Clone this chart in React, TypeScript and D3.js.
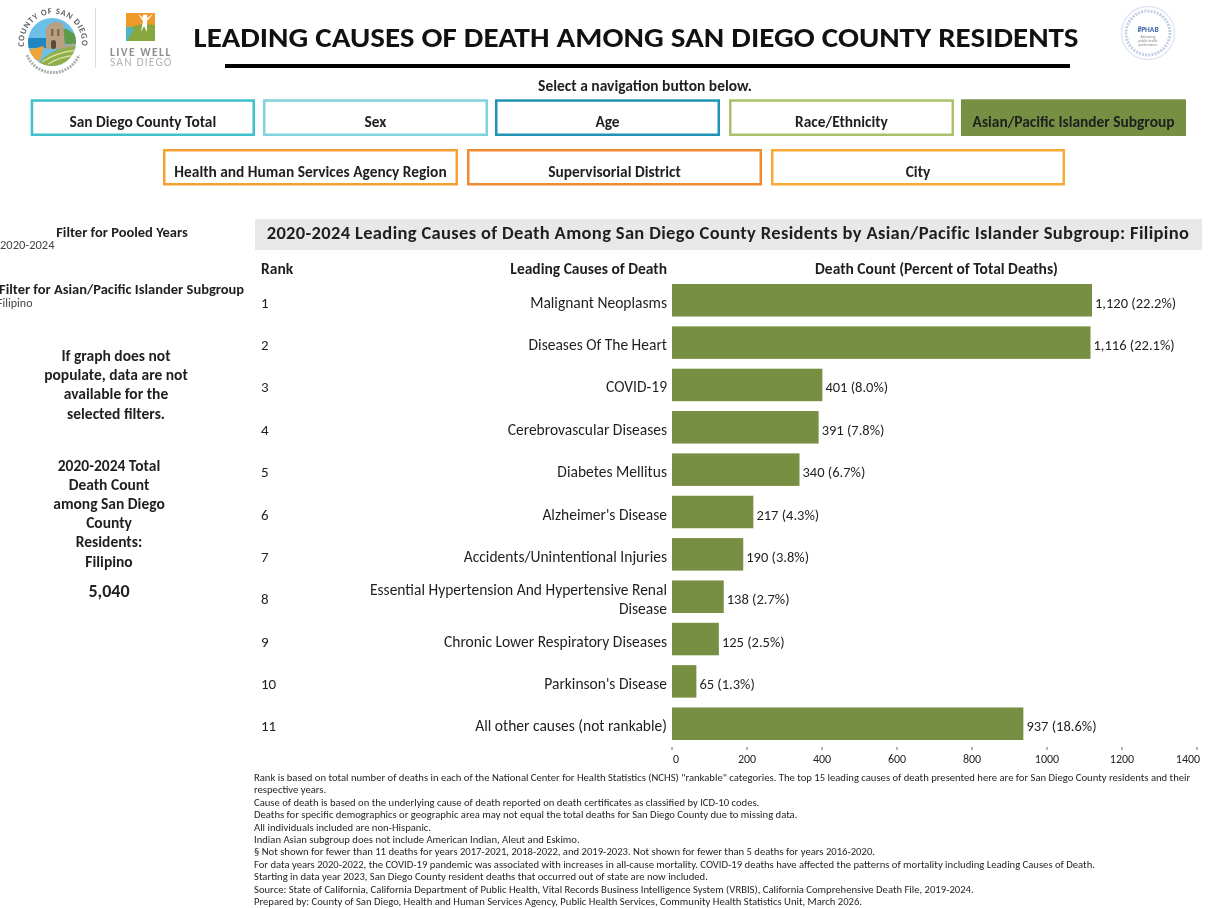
import React from "react";
import * as d3 from "d3";

const FONT = "Carlito, Lato, 'Open Sans', sans-serif";
const ranks = ["1","2","3","4","5","6","7","8","9","10","11"];
const causes = ["Malignant Neoplasms","Diseases Of The Heart","COVID-19","Cerebrovascular Diseases","Diabetes Mellitus","Alzheimer's Disease","Accidents/Unintentional Injuries","Essential Hypertension And Hypertensive Renal Disease","Chronic Lower Respiratory Diseases","Parkinson's Disease","All other causes (not rankable)"];
const counts = [1120,1116,401,391,340,217,190,138,125,65,937];
const percents = ["22.2","22.1","8.0","7.8","6.7","4.3","3.8","2.7","2.5","1.3","18.6"];
const ticks = [0,200,400,600,800,1000,1200,1400];
const tickLabelShift = [4,0,0,0,0,0,0,-9];
const navRow1 = ["San Diego County Total","Sex","Age","Race/Ethnicity","Asian/Pacific Islander Subgroup"];
const navRow1X = [30.7,263,495,729,961];
const navRow1W = [224.3,225,225,225,225];
const navRow1C = ["#3fc1cb","#7fd3de","#1f93b5","#a9c26a","#778f43"];
const navRow2 = ["Health and Human Services Agency Region","Supervisorial District","City"];
const navRow2X = [163,467,771];
const navRow2W = [295,295,294];
const navRow2C = ["#f5a035","#f08a33","#f8a937"];
const notes = [
  "Rank is based on total number of deaths in each of the National Center for Health Statistics (NCHS) \"rankable\" categories. The top 15 leading causes of death presented here are for San Diego County residents and their",
  "respective years.",
  "Cause of death is based on the underlying cause of death reported on death certificates as classified by ICD-10 codes.",
  "Deaths for specific demographics or geographic area may not equal the total deaths for San Diego County due to missing data.",
  "All individuals included are non-Hispanic.",
  "Indian Asian subgroup does not include American Indian, Aleut and Eskimo.",
  "§ Not shown for fewer than 11 deaths for years 2017-2021, 2018-2022, and 2019-2023. Not shown for fewer than 5 deaths for years 2016-2020.",
  "For data years 2020-2022, the COVID-19 pandemic was associated with increases in all-cause mortality. COVID-19 deaths have affected the patterns of mortality including Leading Causes of Death.",
  "Starting in data year 2023, San Diego County resident deaths that occurred out of state are now included.",
  "Source: State of California, California Department of Public Health, Vital Records Business Intelligence System (VRBIS), California Comprehensive Death File, 2019-2024.",
  "Prepared by: County of San Diego, Health and Human Services Agency, Public Health Services, Community Health Statistics Unit, March 2026.",
];
const sideNote = ["If graph does not","populate, data are not","available for the","selected filters."];
const sideTotal = ["2020-2024 Total","Death Count","among San Diego","County","Residents:","Filipino"];

const GREEN = "#778f43";
const TXT = "#1f1f1f";

export default function App() {
  const x = d3.scaleLinear().domain([0, 1400]).range([672, 1197]);
  const y = d3.scaleBand<string>().domain(ranks).range([284, 740]).paddingInner(0.232).paddingOuter(0);
  return (
    <svg width={1213} height={908} style={{ position: "absolute", left: 0, top: 0, filter: "blur(0.5px)" }} fontFamily={FONT}>
      <defs>
        <path id="sealArc" d="M 25.5 52 A 29 29 0 1 1 80.5 52" />
        <clipPath id="sealClip"><circle cx={52} cy={42} r={24} /></clipPath>
      </defs>
      <rect width={1213} height={908} fill="#fff" />
      {/* County seal */}
      <text fontSize={8.5} fontWeight={700} fill="#5f6468" letterSpacing={0.8}>
        <textPath href="#sealArc" startOffset="50%" textAnchor="middle">COUNTY OF SAN DIEGO</textPath>
      </text>
      <path d="M 27 55 A 28 28 0 0 0 79 55" fill="none" stroke="#aab0b0" strokeWidth={3} strokeDasharray="2 1" />
      <g clipPath="url(#sealClip)">
        <rect x={28} y={18} width={48} height={48} fill="#6cc0e8" />
        <rect x={28} y={38} width={24} height={10} fill="#1f86c0" />
        <path d="M28 50 L44 46 L40 60 L28 60 Z" fill="#f0a33a" />
        <path d="M36 66 Q52 46 78 46 L78 66 Z" fill="#8fae4a" />
        <path d="M42 62 Q56 52 78 50 M48 64 Q60 56 78 55" stroke="#d5e0a0" strokeWidth={1.5} fill="none" />
        <path d="M62 28 Q72 30 78 38 L78 44 L62 44 Z" fill="#5f9a4a" />
        <path d="M46 49 L46 28 Q54 18 63 24 L65 46 L74 43 L74 46 L58 49 Z" fill="#b9a083" />
        <rect x={51} y={40} width={5} height={9} rx={2.5} fill="#5a4a3c" />
        <rect x={51} y={29} width={2.5} height={7} fill="#7c6a58" />
        <rect x={57} y={29} width={2.5} height={7} fill="#7c6a58" />
      </g>
      {/* divider */}
      <line x1={95.5} y1={8} x2={95.5} y2={68} stroke="#ddd" />
      {/* Live Well logo */}
      <rect x={126} y={13} width={29} height={28} fill="#f09a2c" />
      <path d="M126 41 L126 30 Q137 22 155 25 L155 41 Z" fill="#86a83f" />
      <path d="M126 41 L126 27 Q132 26 134 30 Q130 34 128 41 Z" fill="#4fb4c4" />
      <circle cx={145} cy={17} r={2.4} fill="#fff" />
      <path d="M138 14 L143 21 L141 32 L144 26 L147 32 L147 21 L153 14 L145 19.5 Z" fill="#fff" />
      <text x={110} y={56} fontSize={11.5} fontWeight={700} fill="#8f8f8f" letterSpacing={1.45}>LIVE WELL</text>
      <text x={110} y={66} fontSize={11.5} fill="#b5b5b5" letterSpacing={1.15}>SAN DIEGO</text>
      {/* PHAB seal */}
      <circle cx={1148} cy={33} r={26.5} fill="#fff" stroke="#e1e6f2" strokeWidth={1.5} />
      <circle cx={1148} cy={33} r={22} fill="none" stroke="#c3cfe6" strokeWidth={3} strokeDasharray="2 1.2" />
      <text x={1148} y={32} fontSize={7.5} fontWeight={700} fill="#3a62a8" textAnchor="middle">#PHAB</text>
      <text x={1148} y={38} fontSize={3.6} fill="#888" textAnchor="middle">Advancing</text>
      <text x={1148} y={42} fontSize={3.6} fill="#888" textAnchor="middle">public health</text>
      <text x={1148} y={46} fontSize={3.6} fill="#888" textAnchor="middle">performance</text>

      {/* Title */}
      <text x={636} y={47} fontSize={29} fontWeight={700} fill="#111" textAnchor="middle" textLength={885} lengthAdjust="spacingAndGlyphs">LEADING CAUSES OF DEATH AMONG SAN DIEGO COUNTY RESIDENTS</text>
      <line x1={225} x2={1070} y1={66} y2={66} stroke="#000" strokeWidth={4} />
      <text x={645} y={90.5} fontSize={15.5} fontWeight={700} fill={TXT} textAnchor="middle">Select a navigation button below.</text>

      {/* Nav */}
      {navRow1.map((t, i) => (
        <g key={t}>
          {i === 4
            ? <rect x={navRow1X[i]} y={99.3} width={navRow1W[i]} height={36.7} fill={navRow1C[i]} />
            : <rect x={navRow1X[i] + 1.25} y={100.55} width={navRow1W[i] - 2.5} height={34.2} fill="#fff" stroke={navRow1C[i]} strokeWidth={2.5} />}
          <text x={navRow1X[i] + navRow1W[i] / 2} y={126.5} fontSize={15.4} fontWeight={700} fill={TXT} textAnchor="middle">{t}</text>
        </g>
      ))}
      {navRow2.map((t, i) => (
        <g key={t}>
          <rect x={navRow2X[i] + 1.25} y={150.25} width={navRow2W[i] - 2.5} height={34} fill="#fff" stroke={navRow2C[i]} strokeWidth={2.5} />
          <text x={navRow2X[i] + navRow2W[i] / 2} y={176.5} fontSize={15.4} fontWeight={700} fill={TXT} textAnchor="middle">{t}</text>
        </g>
      ))}

      {/* Left panel */}
      <text x={122} y={237} fontSize={14.5} fontWeight={700} fill={TXT} textAnchor="middle">Filter for Pooled Years</text>
      <text x={0} y={249} fontSize={12.5} fill="#444">2020-2024</text>
      <text x={-1} y={294} fontSize={14.5} fontWeight={700} fill={TXT}>Filter for Asian/Pacific Islander Subgroup</text>
      <text x={-3} y={307} fontSize={12} fill="#444">Filipino</text>
      {sideNote.map((t, i) => (
        <text key={t} x={116} y={360.5 + i * 19.4} fontSize={15.5} fontWeight={700} fill={TXT} textAnchor="middle">{t}</text>
      ))}
      {sideTotal.map((t, i) => (
        <text key={t} x={109} y={470.5 + i * 19.2} fontSize={15.5} fontWeight={700} fill={TXT} textAnchor="middle">{t}</text>
      ))}
      <text x={109} y={597} fontSize={18} fontWeight={700} fill={TXT} textAnchor="middle">5,040</text>

      {/* Chart header */}
      <rect x={255} y={219} width={947} height={31} fill="#e8e8e8" />
      <text x={728} y={239} fontSize={18.5} fontWeight={700} fill={TXT} textAnchor="middle" letterSpacing={0.35}>2020-2024 Leading Causes of Death Among San Diego County Residents by Asian/Pacific Islander Subgroup: Filipino</text>
      <text x={261} y={274} fontSize={15.5} fontWeight={700} fill={TXT}>Rank</text>
      <text x={667} y={274} fontSize={15.5} fontWeight={700} fill={TXT} textAnchor="end">Leading Causes of Death</text>
      <text x={936.5} y={274} fontSize={15.5} fontWeight={700} fill={TXT} textAnchor="middle">Death Count (Percent of Total Deaths)</text>

      {/* Rows */}
      {ranks.map((r, i) => {
        const cy = y(r)! + y.bandwidth() / 2;
        const isWrapped = causes[i].startsWith("Essential");
        return (
          <g key={r}>
            <text x={261} y={cy + 7.5} fontSize={15} fill={TXT}>{r}</text>
            {isWrapped ? (
              <>
                <text x={667} y={cy - 1.7} fontSize={15.5} fill={TXT} textAnchor="end">Essential Hypertension And Hypertensive Renal</text>
                <text x={667} y={cy + 17.5} fontSize={15.5} fill={TXT} textAnchor="end">Disease</text>
              </>
            ) : (
              <text x={667} y={cy + 7.5} fontSize={15.5} fill={TXT} textAnchor="end">{causes[i]}</text>
            )}
            <rect x={x(0)} y={y(r)!} width={x(counts[i]) - x(0)} height={y.bandwidth()} fill={GREEN} />
            <text x={x(counts[i]) + 3} y={cy + 7.5} fontSize={14.5} fill={TXT}>{`${d3.format(",")(counts[i])} (${percents[i]}%)`}</text>
          </g>
        );
      })}

      {/* Axis */}
      {ticks.map((t, i) => (
        <g key={t}>
          <line x1={x(t)} x2={x(t)} y1={747} y2={750} stroke="#666" />
          <text x={x(t) + tickLabelShift[i]} y={763} fontSize={12} fill={TXT} textAnchor="middle">{t}</text>
        </g>
      ))}

      {/* Notes */}
      {notes.map((t, i) => (
        <text key={i} x={254} y={781 + i * 12.4} fontSize={10.65} fill={TXT}>{t}</text>
      ))}
    </svg>
  );
}
